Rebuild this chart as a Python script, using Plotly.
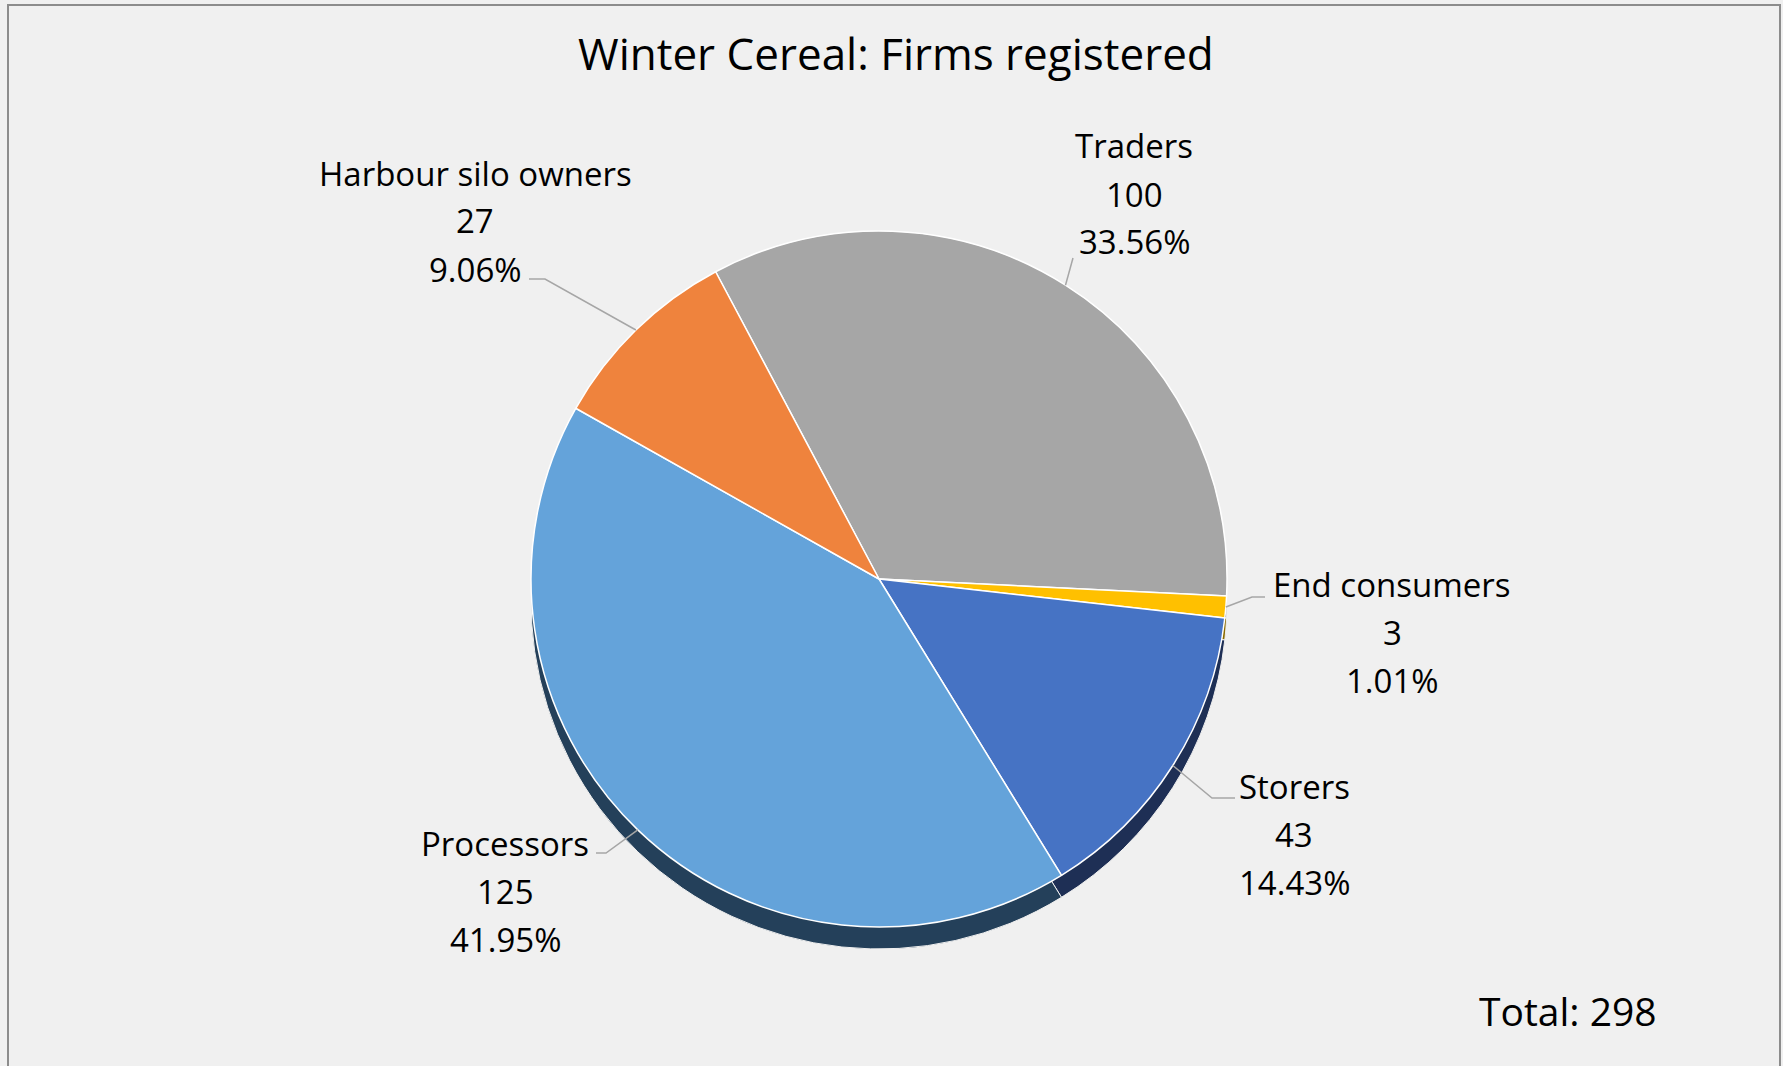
import math
import plotly.graph_objects as go

W, H = 1783, 1066

categories = ["Traders", "End consumers", "Storers", "Processors", "Harbour silo owners"]
firms = [100, 3, 43, 125, 27]
colors = ["#A6A6A6", "#FFC000", "#4673C4", "#64A3DA", "#EF833D"]
side_colors = ["#5E5E5E", "#8A6A00", "#1E2F55", "#24405A", "#8A4A1E"]

# label block centre (px) and leader line (text end, elbow) in px
label_pos = {
    "Traders": (1134, 146),
    "End consumers": (1392, 584),
    "Storers": (1294, 786),
    "Processors": (505, 843),
    "Harbour silo owners": (475, 173),
}
leader_pts = {
    "Traders": [(1073, 258)],
    "End consumers": [(1265, 597), (1252, 597)],
    "Storers": [(1235, 798), (1212, 798)],
    "Processors": [(596, 853), (606, 853)],
    "Harbour silo owners": [(529, 279), (545, 279)],
}

total = sum(firms)
rotation = -28
cx, cy, r = 879, 579, 348
depth = 22


def px(x):
    return x / W


def py(y):
    return 1 - y / H


fig = go.Figure()
dom_x = [px(cx - r), px(cx + r)]
fig.add_trace(go.Pie(
    labels=categories, values=firms, sort=False, direction="clockwise",
    rotation=rotation, textinfo="none", hoverinfo="skip", showlegend=False,
    marker=dict(colors=side_colors, line=dict(color="#F0F0F0", width=1)),
    domain=dict(x=dom_x, y=[py(cy + r + depth), py(cy - r + depth)]),
))
fig.add_trace(go.Pie(
    labels=categories, values=firms, sort=False, direction="clockwise",
    rotation=rotation, textinfo="none", showlegend=False,
    marker=dict(colors=colors, line=dict(color="#FFFFFF", width=1.5)),
    domain=dict(x=dom_x, y=[py(cy + r), py(cy - r)]),
))

shapes = [dict(type="rect", xref="paper", yref="paper", x0=px(8), x1=px(1780),
               y0=-0.05, y1=py(5), line=dict(color="#8C8C8C", width=2))]
annotations = []
cum = 0
for cat, v in zip(categories, firms):
    mid = math.radians(rotation + (cum + v / 2) / total * 360)
    cum += v
    ex, ey = cx + r * math.sin(mid), cy - r * math.cos(mid)
    pts = leader_pts[cat] + [(ex, ey)]
    path = "M " + " L ".join(f"{px(a):.5f},{py(b):.5f}" for a, b in pts)
    shapes.append(dict(type="path", xref="paper", yref="paper", path=path,
                       line=dict(color="#A6A6A6", width=1.5)))
    lx, ly = label_pos[cat]
    lines = [cat, str(v), f"{v / total * 100:.2f}%"]
    for i, t in enumerate(lines):
        annotations.append(dict(x=px(lx), y=py(ly + i * 48), xref="paper", yref="paper",
                                text=t, showarrow=False, xanchor="center", yanchor="middle",
                                font=dict(size=33, color="#000000")))

annotations.append(dict(x=px(896), y=py(53), xref="paper", yref="paper",
                        text="Winter Cereal: Firms registered", showarrow=False,
                        xanchor="center", yanchor="middle",
                        font=dict(size=44, color="#000000")))
annotations.append(dict(x=px(1568), y=py(1010), xref="paper", yref="paper",
                        text=f"Total: {total}", showarrow=False,
                        xanchor="center", yanchor="middle",
                        font=dict(size=39, color="#000000")))

fig.update_layout(
    width=W, height=H,
    margin=dict(l=0, r=0, t=0, b=0),
    paper_bgcolor="#F0F0F0",
    plot_bgcolor="#F0F0F0",
    font=dict(family="Open Sans", color="#000000"),
    shapes=shapes,
    annotations=annotations,
)
fig.write_html("out.html", config={"displayModeBar": False},
               post_script="document.body.style.margin='0';")
